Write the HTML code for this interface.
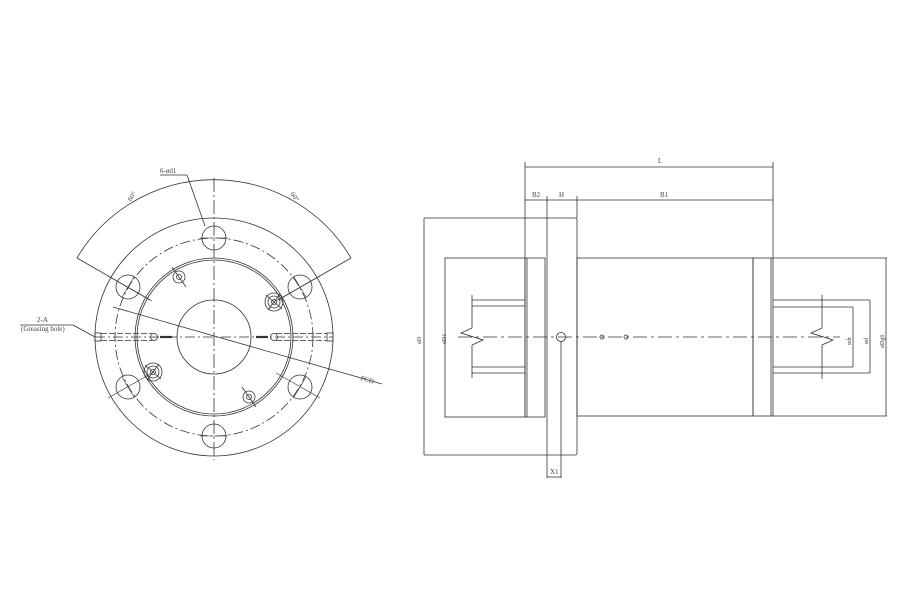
<!DOCTYPE html>
<html><head><style>body{margin:0;background:#fff}svg{display:block}</style></head>
<body>
<svg width="900" height="600" viewBox="0 0 900 600" xmlns="http://www.w3.org/2000/svg" fill="none" stroke="#333" stroke-width="0.8" font-family="Liberation Serif, serif" font-size="7">
<!-- LEFT VIEW -->
<g>
<circle cx="214" cy="337" r="119"/>
<circle cx="214" cy="337" r="99" stroke-dasharray="10,3,2,3"/>
<circle cx="214" cy="337" r="79"/>
<circle cx="214" cy="337" r="77"/>
<circle cx="214" cy="337" r="37"/>
<path d="M77 258 A159 159 0 0 1 351 258"/>
<line x1="77" y1="258" x2="150" y2="300"/>
<line x1="351" y1="258" x2="278" y2="300"/>
<line x1="214" y1="178" x2="214" y2="460" stroke-dasharray="14,3,2,3"/>
<g>
<circle cx="214" cy="238" r="12"/><circle cx="128" cy="287" r="12"/><circle cx="300" cy="287" r="12"/>
<circle cx="128" cy="387" r="12"/><circle cx="300" cy="387" r="12"/><circle cx="214" cy="436" r="12"/>
</g>
<g stroke-width="0.6">
<line x1="200" y1="238" x2="228" y2="238"/>
<line x1="108" y1="276" x2="152" y2="301"/><line x1="122" y1="297" x2="134" y2="277"/>
<line x1="276" y1="301" x2="320" y2="276"/><line x1="294" y1="277" x2="306" y2="297"/>
<line x1="108" y1="398" x2="152" y2="373"/><line x1="122" y1="377" x2="134" y2="397"/>
<line x1="276" y1="373" x2="320" y2="398"/><line x1="294" y1="397" x2="306" y2="377"/>
<line x1="200" y1="436" x2="228" y2="436"/>
</g>
<g>
<circle cx="179" cy="277" r="6"/><circle cx="179" cy="277" r="2.5"/><line x1="172" y1="267" x2="186" y2="287"/>
<circle cx="274" cy="302" r="6"/><circle cx="274" cy="302" r="2.5"/><circle cx="274" cy="302" r="9"/><line x1="266" y1="295" x2="282" y2="309"/><line x1="268" y1="310" x2="280" y2="294"/>
<circle cx="153" cy="372" r="6"/><circle cx="153" cy="372" r="2.5"/><circle cx="153" cy="372" r="9"/><line x1="145" y1="365" x2="161" y2="379"/><line x1="147" y1="380" x2="159" y2="364"/>
<circle cx="249" cy="397" r="6"/><circle cx="249" cy="397" r="2.5"/><line x1="242" y1="387" x2="256" y2="407"/>
</g>
<!-- grease holes -->
<g>
<rect x="95" y="333" width="6" height="8"/><rect x="327" y="333" width="6" height="8"/>
<line x1="101" y1="333.5" x2="152" y2="333.5" stroke-dasharray="6,2"/><line x1="101" y1="340.5" x2="152" y2="340.5" stroke-dasharray="6,2"/>
<line x1="276" y1="333.5" x2="327" y2="333.5" stroke-dasharray="6,2"/><line x1="276" y1="340.5" x2="327" y2="340.5" stroke-dasharray="6,2"/>
<circle cx="154" cy="337" r="3.5"/><circle cx="274" cy="337" r="3.5"/>
<line x1="160" y1="337" x2="172" y2="337" stroke-width="2.2"/><line x1="256" y1="337" x2="268" y2="337" stroke-width="2.2"/>
<line x1="95" y1="337" x2="333" y2="337" stroke-dasharray="10,3,2,3"/>
</g>
<line x1="113" y1="307" x2="382" y2="384"/>
<text x="360" y="380" fill="#444" stroke="none" transform="rotate(16 360 380)">PCD</text>
<line x1="160" y1="175" x2="187" y2="175"/><line x1="187" y1="175" x2="205" y2="226"/>
<text x="160" y="173" fill="#444" stroke="none">6-ød1</text>
<line x1="20" y1="325" x2="73" y2="325"/><line x1="73" y1="325" x2="95" y2="337"/>
<text x="37" y="322" fill="#444" stroke="none">2-A</text>
<text x="21" y="331" fill="#444" stroke="none">(Greasing hole)</text>
<text x="128" y="200" fill="#444" stroke="none" transform="rotate(-55 131 198)">60°</text>
<text x="290" y="198" fill="#444" stroke="none" transform="rotate(55 294 196)">60°</text>
</g>
<!-- RIGHT VIEW -->
<g>
<line x1="525" y1="167" x2="773" y2="167"/>
<line x1="525" y1="162" x2="525" y2="258"/><line x1="773" y1="162" x2="773" y2="258"/>
<text x="658" y="163" fill="#444" stroke="none">L</text>
<line x1="525" y1="200" x2="773" y2="200"/>
<line x1="547" y1="196" x2="547" y2="218"/><line x1="577" y1="196" x2="577" y2="218"/>
<text x="532" y="197" fill="#444" stroke="none">B2</text>
<text x="559" y="197" fill="#444" stroke="none">H</text>
<text x="660" y="197" fill="#444" stroke="none">B1</text>
<path d="M547 218 H575 Q577 218 577 220 V453 Q577 455 575 455 H547 Z"/>
<line x1="424" y1="218" x2="547" y2="218"/><line x1="424" y1="455" x2="547" y2="455"/>
<line x1="424" y1="218" x2="424" y2="455"/>
<rect x="445" y="258" width="80" height="159"/>
<rect x="525" y="258" width="20" height="159"/><line x1="527" y1="258" x2="527" y2="417"/>
<rect x="577" y="258" width="176" height="158"/>
<rect x="753" y="258" width="20" height="158"/><line x1="771" y1="258" x2="771" y2="416"/>
<line x1="773" y1="258" x2="887" y2="258"/><line x1="773" y1="416" x2="887" y2="416"/>
<line x1="886" y1="258" x2="886" y2="416"/>
<!-- left screw -->
<line x1="472" y1="300" x2="525" y2="300"/><line x1="472" y1="306" x2="525" y2="306"/>
<line x1="472" y1="367" x2="525" y2="367"/><line x1="472" y1="373" x2="525" y2="373"/>
<line x1="472" y1="295" x2="472" y2="328"/><line x1="472" y1="345" x2="472" y2="378"/>
<polyline points="472,328 461,333 483,340 472,345"/>
<!-- right screw -->
<line x1="773" y1="300" x2="822" y2="300"/><line x1="773" y1="307" x2="822" y2="307"/>
<line x1="773" y1="367" x2="822" y2="367"/><line x1="773" y1="373" x2="822" y2="373"/>
<line x1="822" y1="295" x2="822" y2="328"/><line x1="822" y1="345" x2="822" y2="379"/>
<polyline points="822,328 811,333 833,340 822,345"/>
<line x1="822" y1="307" x2="853" y2="307"/><line x1="822" y1="367" x2="853" y2="367"/><line x1="853" y1="307" x2="853" y2="367"/>
<line x1="822" y1="300" x2="870" y2="300"/><line x1="822" y1="373" x2="870" y2="373"/><line x1="870" y1="300" x2="870" y2="373"/>
<line x1="458" y1="337" x2="840" y2="337" stroke-dasharray="14,4,3,4"/>
<circle cx="561" cy="337" r="4.5"/><circle cx="602" cy="337" r="2"/><circle cx="626" cy="337" r="2"/>
<line x1="561" y1="341" x2="561" y2="478"/><line x1="547" y1="455" x2="547" y2="478"/><line x1="547" y1="477" x2="561" y2="477"/>
<text x="550" y="474" fill="#444" stroke="none">X1</text>
<g fill="#444" stroke="none" font-size="6">
<text transform="translate(421 344) rotate(-90)">øD</text>
<text transform="translate(446 344) rotate(-90)">øD1</text>
<text transform="translate(851 345) rotate(-90)">ødr</text>
<text transform="translate(868 344) rotate(-90)">ød</text>
<text transform="translate(884 348) rotate(-90)">øDg6</text>
</g>
</g>
</svg>
</body></html>
